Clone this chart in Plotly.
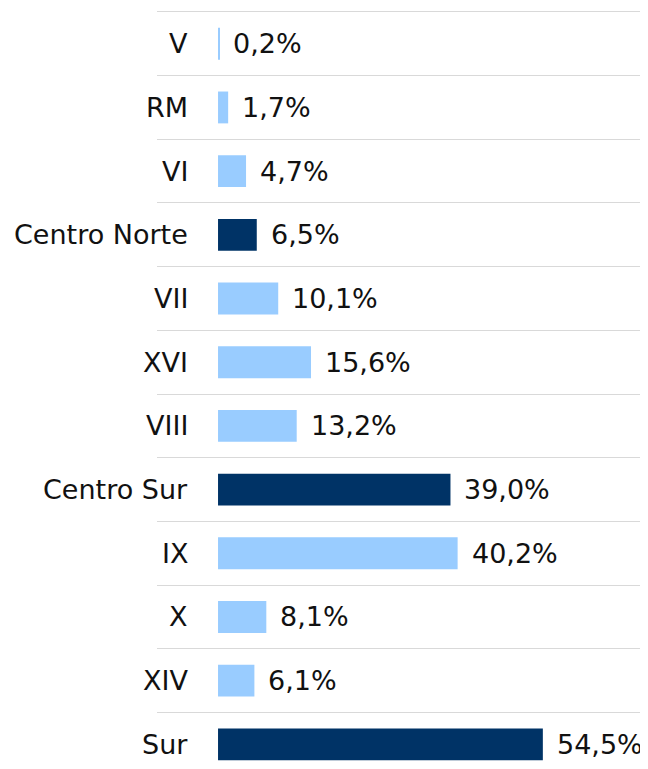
import plotly.graph_objects as go

categories = ["V", "RM", "VI", "Centro Norte", "VII", "XVI", "VIII",
              "Centro Sur", "IX", "X", "XIV", "Sur"]
values = [0.2, 1.7, 4.7, 6.5, 10.1, 15.6, 13.2, 39.0, 40.2, 8.1, 6.1, 54.5]
is_macro = [False, False, False, True, False, False, False,
            True, False, False, False, True]

LIGHT = "#99CCFF"
DARK = "#003366"
FONT = "DejaVu Sans"

positions = list(range(len(categories)))
colors = [DARK if m else LIGHT for m in is_macro]
value_labels = [f"{v:.1f}".replace(".", ",") + "%" for v in values]

fig = go.Figure()
fig.add_trace(go.Bar(
    x=values, y=positions, orientation="h",
    marker=dict(color=colors, line=dict(width=0)),
    width=0.5, hoverinfo="skip",
))

annotations = []
for p, c in zip(positions, categories):
    annotations.append(dict(x=0, y=p, xref="x", yref="y", text=c,
                            showarrow=False, xanchor="right", yanchor="middle",
                            xshift=-28, font=dict(family=FONT, size=27, color="#111111")))
for p, v, t in zip(positions, values, value_labels):
    annotations.append(dict(x=v, y=p, xref="x", yref="y", text=t,
                            showarrow=False, xanchor="left", yanchor="middle",
                            xshift=12, font=dict(family=FONT, size=27, color="#111111")))

# page body has an 8px default margin, so the figure is 8px smaller
fig.update_layout(
    width=640, height=761,
    margin=dict(l=149, r=8, t=2, b=0),
    paper_bgcolor="white", plot_bgcolor="white",
    showlegend=False,
    annotations=annotations,
    xaxis=dict(range=[-10.24, 70.8], visible=False, showgrid=False, zeroline=False),
    yaxis=dict(range=[11.387, -0.53], tickmode="linear", tick0=0.5, dtick=1,
               showgrid=True, gridcolor="#D9D9D9", gridwidth=1.3,
               showticklabels=False, zeroline=False, showline=False, ticks=""),
)

fig.write_html("out.html")
